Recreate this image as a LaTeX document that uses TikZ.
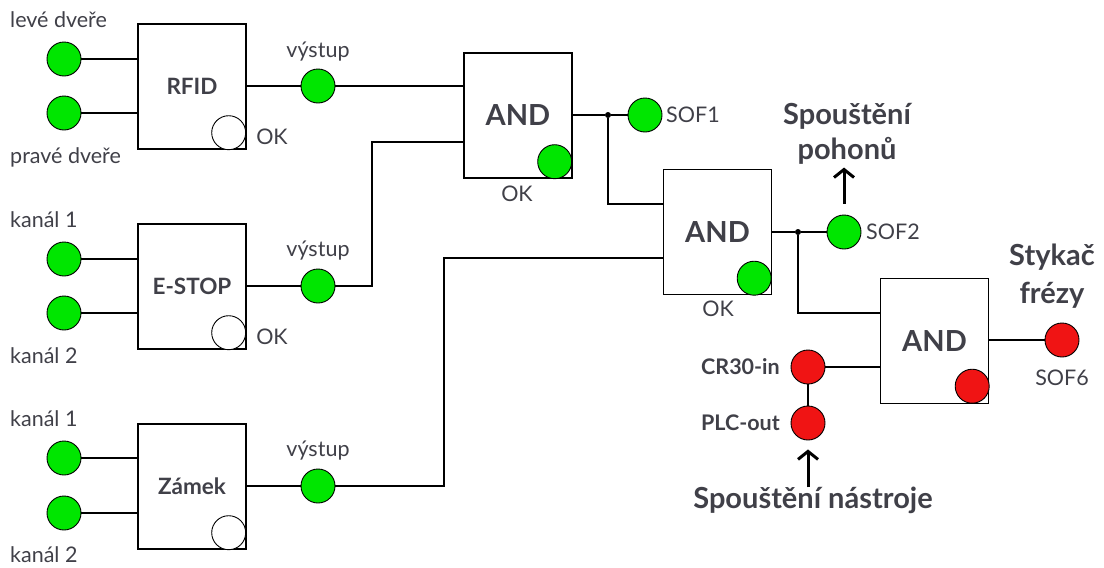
\documentclass[tikz,border=0pt]{standalone}
\usepackage{fontspec}
\setmainfont{Lato}
\usetikzlibrary{arrows.meta,calc}
\definecolor{ledgreen}{RGB}{0,230,0}
\definecolor{ledred}{RGB}{240,20,20}
\definecolor{txt}{RGB}{64,64,72}
\begin{document}
\begin{tikzpicture}[x=1pt,y=-1pt,
  wire/.style={line width=1.3pt},
  gate/.style={draw, line width=1.4pt, minimum width=108pt, minimum height=125pt, inner sep=0pt, text=txt, font=\bfseries\fontsize{22.5}{26}\selectfont},
  andgate/.style={gate, font=\bfseries\fontsize{29}{33}\selectfont},
  led/.style={circle, draw=black, line width=0.9pt, minimum size=34pt, inner sep=0pt},
  gled/.style={led, fill=ledgreen}, rled/.style={led, fill=ledred}, wled/.style={led, fill=white},
  lbl/.style={text=txt, font=\fontsize{21.5}{24}\selectfont, inner sep=0pt},
  blbl/.style={text=txt, font=\bfseries\fontsize{21.5}{24}\selectfont, inner sep=0pt},
  big/.style={text=txt, font=\bfseries\fontsize{29}{35}\selectfont, align=center, inner sep=0pt},
  jdot/.style={circle, fill=black, minimum size=6pt, inner sep=0pt},
  uparrow/.style={line width=3pt, -{Straight Barb[length=8pt,width=20pt]}}
]
\useasboundingbox (0,0) rectangle (1104,568);

% gates
\node[gate] (rfid) at (192,86.5) {RFID};
\node[gate] (estop) at (192,286.5) {E-STOP};
\node[gate] (zamek) at (192,486.5) {Zámek};
\node[andgate] (and1) at (518,115.5) {AND};
\node[andgate] (and2) at (717.5,232) {AND};
\node[andgate] (and3) at (934.5,341) {AND};

% indicators in gates
\node[wled] (okr) at ([shift={(-18pt,17pt)}]rfid.south east) {};
\node[wled] (oke) at ([shift={(-18pt,17pt)}]estop.south east) {};
\node[wled] (okz) at ([shift={(-18pt,17pt)}]zamek.south east) {};
\node[gled] (ok1) at ([shift={(-18pt,17pt)}]and1.south east) {};
\node[gled] (ok2) at ([shift={(-18pt,17pt)}]and2.south east) {};
\node[rled] (ok3) at ([shift={(-17pt,18pt)}]and3.south east) {};

% inputs
\node[gled] (i1) at (64,59) {};
\node[gled] (i2) at (64,113) {};
\node[gled] (i3) at (64,259) {};
\node[gled] (i4) at (64,313) {};
\node[gled] (i5) at (64,458) {};
\node[gled] (i6) at (64,513) {};

% outputs
\node[gled] (o1) at (318,86) {};
\node[gled] (o2) at (318,286) {};
\node[gled] (o3) at (318,486) {};
\node[gled] (sof1) at (645,115) {};
\node[gled] (sof2) at (844,232) {};
\node[rled] (cr) at (808,367) {};
\node[rled] (plc) at (808,423) {};
\node[rled] (sof6) at (1062,340) {};

% junction dots
\node[jdot] (d1) at (608,115) {};
\node[jdot] (d2) at (798,232) {};

% helper coordinates
\coordinate (j2) at (372,142);
\coordinate (j3) at (444,258);
\coordinate (j4) at (608,204);
\coordinate (j5) at (798,313);

% labels
\node[lbl, anchor=west] (t1) at (10,20) {levé dveře};
\node[lbl, anchor=west] (t2) at (10,157) {pravé dveře};
\node[lbl, anchor=west] (t3) at (10,220) {kanál 1};
\node[lbl, anchor=west] (t4) at (10,356) {kanál 2};
\node[lbl, anchor=west] (t5) at (10,419) {kanál 1};
\node[lbl, anchor=west] (t6) at (10,555) {kanál 2};
\node[lbl] (v1) at (318,52) {výstup};
\node[lbl] (v2) at (318,251) {výstup};
\node[lbl] (v3) at (318,451) {výstup};
\node[lbl] (k1) at (272,137) {OK};
\node[lbl] (k2) at (272,337) {OK};
\node[lbl] (k3) at (517,194) {OK};
\node[lbl] (k4) at (718,309) {OK};
\node[lbl, anchor=west] (s1) at (666,115) {SOF1};
\node[lbl, anchor=west] (s2) at (866,232) {SOF2};
\node[lbl] (s6) at (1062,378) {SOF6};
\node[blbl, anchor=east] (crl) at (780,367) {CR30-in};
\node[blbl, anchor=east] (plcl) at (780,423) {PLC-out};
\node[big] (pohon) at (847,134) {Spouštění\\pohonů};
\node[big, font=\bfseries\fontsize{29}{38}\selectfont] (stykac) at (1052,276) {Stykač\\frézy};
\node[big] (nastroje) at (813,500) {Spouštění nástroje};

% wires
\draw[wire] (i1) -- (i1 -| rfid.west);
\draw[wire] (i2) -- (i2 -| rfid.west);
\draw[wire] (i3) -- (i3 -| estop.west);
\draw[wire] (i4) -- (i4 -| estop.west);
\draw[wire] (i5) -- (i5 -| zamek.west);
\draw[wire] (i6) -- (i6 -| zamek.west);
\draw[wire] (rfid.east |- o1) -- (o1);
\draw[wire] (o1) -- (o1 -| and1.west);
\draw[wire] (estop.east |- o2) -- (o2);
\draw[wire] (o2) -| (j2) -- (j2 -| and1.west);
\draw[wire] (zamek.east |- o3) -- (o3);
\draw[wire] (o3) -| (j3) -- (j3 -| and2.west);
\draw[wire] (and1.east |- d1) -- (d1) -- (sof1);
\draw[wire] (d1) -- (j4) -- (j4 -| and2.west);
\draw[wire] (and2.east |- d2) -- (d2) -- (sof2);
\draw[wire] (d2) -- (j5) -- (j5 -| and3.west);
\draw[wire] (cr) -- (cr -| and3.west);
\draw[wire] (cr) -- (plc);
\draw[wire] (and3.east |- sof6) -- (sof6);

% arrows
\draw[uparrow] ([yshift=11pt]sof2.north) -- ([yshift=47pt]sof2.north);
\draw[uparrow] ([yshift=-47pt]plc.south) -- ([yshift=-9pt]plc.south);
\end{tikzpicture}
\end{document}
